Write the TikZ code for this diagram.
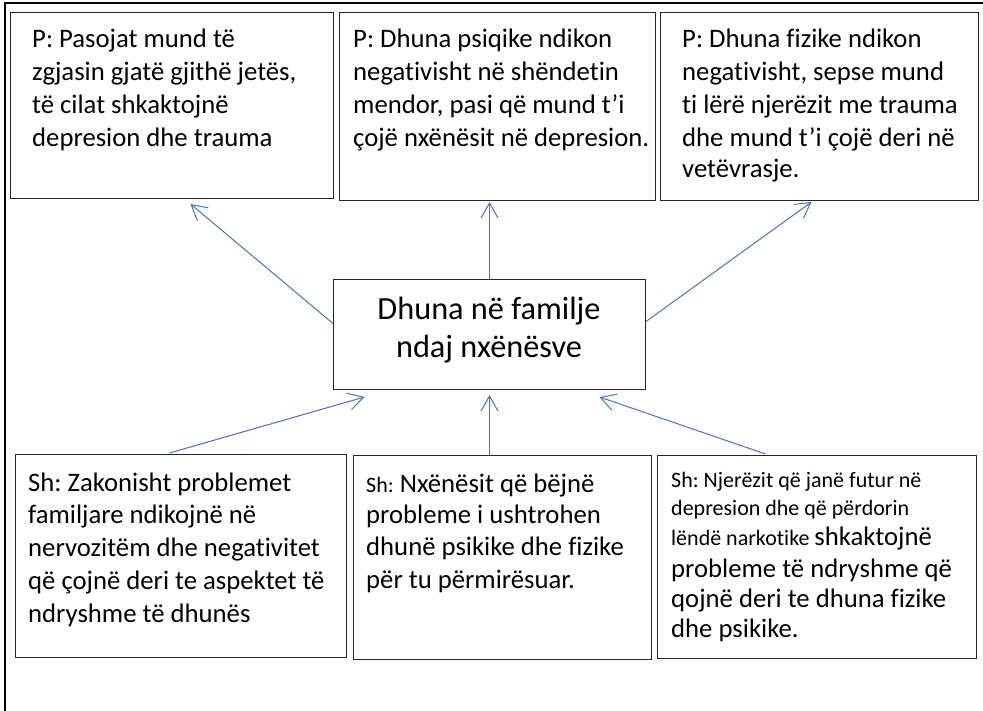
\documentclass[tikz,border=0pt]{standalone}
\usepackage{fontspec}
\setmainfont{Carlito}[Ligatures=NoCommon]
\frenchspacing
\usetikzlibrary{arrows.meta,calc}
\definecolor{arrblue}{HTML}{4472C4}
\tikzset{
  box/.style={draw=black!85, line width=1pt, rectangle, inner sep=0pt, anchor=north west},
  txt/.style={anchor=base west, inner sep=0pt, font=\fontsize{26.7}{30}\selectfont},
  txts/.style={anchor=base west, inner sep=0pt, font=\fontsize{22}{26}\selectfont},
  ctxt/.style={anchor=base, inner sep=0pt, font=\fontsize{32.3}{36}\selectfont},
  arr/.style={draw=arrblue, line width=1pt, -{Straight Barb[length=15pt,width=17pt,line width=1pt]}}
}
\begin{document}
\begin{tikzpicture}[x=1pt,y=-1pt]
\useasboundingbox (0,0) rectangle (983,711);
% outer frame
\draw[line width=2pt] (5,711) -- (5,3) -- (983,3);
% boxes
\node[box, minimum width=323pt, minimum height=186pt] (b1) at (10,12) {};
\node[box, minimum width=316pt, minimum height=188pt] (b2) at (339,12) {};
\node[box, minimum width=318pt, minimum height=188pt] (b3) at (660,12) {};
\node[box, minimum width=312pt, minimum height=110pt] (c) at (333,279) {};
\node[box, minimum width=331pt, minimum height=203pt] (b4) at (15,454) {};
\node[box, minimum width=298pt, minimum height=204pt] (b5) at (353,455) {};
\node[box, minimum width=319pt, minimum height=203pt] (b6) at (657,455) {};
% box 1 text
\node[txt] (t1a) at (32,48) {P: Pasojat mund të};
\node[txt] (t1b) at (32,81) {zgjasin gjatë gjithë jetës,};
\node[txt] (t1c) at (32,114) {të cilat shkaktojnë};
\node[txt] (t1d) at (32,147) {depresion dhe trauma};
% box 2 text
\node[txt] (t2a) at (353,48) {P: Dhuna psiqike ndikon};
\node[txt] (t2b) at (353,81) {negativisht në shëndetin};
\node[txt] (t2c) at (353,114) {mendor, pasi që mund t’i};
\node[txt] (t2d) at (353,147) {çojë nxënësit në depresion.};
% box 3 text
\node[txt] (t3a) at (682,48) {P: Dhuna fizike ndikon};
\node[txt] (t3b) at (682,81) {negativisht, sepse mund};
\node[txt] (t3c) at (682,114) {ti lërë njerëzit me trauma};
\node[txt] (t3d) at (682,147) {dhe mund t’i çojë deri në};
\node[txt] (t3e) at (682,178) {vetëvrasje.};
% centre
\node[ctxt] (ca) at (489,320) {Dhuna në familje};
\node[ctxt] (cb) at (489,358) {ndaj nxënësve};
% box 4 text
\node[txt] (t4a) at (28,491) {Sh: Zakonisht problemet};
\node[txt] (t4b) at (28,523) {familjare ndikojnë në};
\node[txt] (t4c) at (28,556) {nervozitëm dhe negativitet};
\node[txt] (t4d) at (28,589) {që çojnë deri te aspektet të};
\node[txt] (t4e) at (28,622) {ndryshme të dhunës};
% box 5 text
\node[txt] (t5a) at (366,492) {{\fontsize{22}{26}\selectfont Sh:} Nxënësit që bëjnë};
\node[txt] (t5b) at (366,523) {probleme i ushtrohen};
\node[txt] (t5c) at (366,555) {dhunë psikike dhe fizike};
\node[txt] (t5d) at (366,588) {për tu përmirësuar.};
% box 6 text
\node[txts] (t6a) at (671,487) {Sh: Njerëzit që janë futur në};
\node[txts] (t6b) at (671,515) {depresion dhe që përdorin};
\node[txts] (t6c) at (671,545) {lëndë narkotike {\fontsize{26.7}{30}\selectfont shkaktojnë}};
\node[txt] (t6d) at (671,577) {probleme të ndryshme që};
\node[txt] (t6e) at (671,607) {qojnë deri te dhuna fizike};
\node[txt] (t6f) at (671,637) {dhe psikike.};
% arrows
\draw[arr] ([yshift=11pt]c.west) -- ([xshift=18.5pt,yshift=-5pt]b1.south);
\draw[arr] (c.north) -- ([yshift=-1pt]b2.south -| c.north);
\draw[arr] ([yshift=13pt]c.east) -- ([xshift=-8pt,yshift=-1pt]b3.south);
\draw[arr] ([xshift=-11.5pt,yshift=1pt]b4.north) -- ([xshift=-125pt,yshift=-7pt]c.south);
\draw[arr] (b5.north -| c.south) -- ([yshift=-5pt]c.south);
\draw[arr] ([xshift=-51.5pt,yshift=1pt]b6.north) -- ([xshift=110pt,yshift=-7pt]c.south);
\end{tikzpicture}
\end{document}
